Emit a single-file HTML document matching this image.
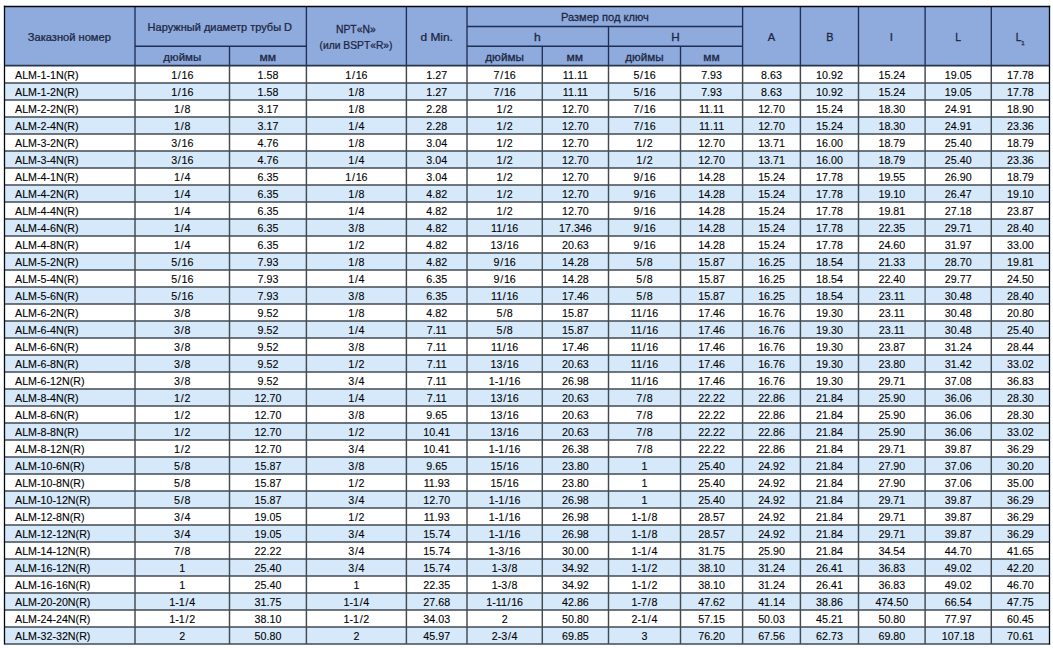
<!DOCTYPE html>
<html><head><meta charset="utf-8"><title>ALM table</title>
<style>
html,body{margin:0;padding:0;background:#fff;}
body{width:1053px;height:648px;overflow:hidden;}
svg{display:block;font-family:"Liberation Sans",sans-serif;}
.h{font-size:10.9px;fill:#1b2540;stroke:#1b2540;stroke-width:0.25px;}
.b{font-size:10.0px;fill:#000;text-anchor:middle;stroke:#000;stroke-width:0.1px;}
.l{font-size:10.0px;fill:#000;text-anchor:start;stroke:#000;stroke-width:0.1px;}
line{stroke:#424a52;stroke-width:1.45;}
.hl{stroke:#1f2e55;stroke-width:1.35;}
.ol{stroke:#05080f;stroke-width:1.3;}
.hb{stroke:#27344f;stroke-width:1.7;}
</style></head><body>
<svg width="1053" height="648" viewBox="0 0 1053 648">
<rect x="0" y="0" width="1053" height="648" fill="#fff"/>
<rect x="4.5" y="6.5" width="1045.0" height="59.099999999999994" fill="#8faadc"/>
<rect x="4.5" y="82.90" width="1045.0" height="17.00" fill="#d6e9fa"/>
<rect x="4.5" y="116.90" width="1045.0" height="17.00" fill="#d6e9fa"/>
<rect x="4.5" y="150.90" width="1045.0" height="17.00" fill="#d6e9fa"/>
<rect x="4.5" y="184.90" width="1045.0" height="17.00" fill="#d6e9fa"/>
<rect x="4.5" y="218.90" width="1045.0" height="17.00" fill="#d6e9fa"/>
<rect x="4.5" y="252.90" width="1045.0" height="17.00" fill="#d6e9fa"/>
<rect x="4.5" y="286.90" width="1045.0" height="17.00" fill="#d6e9fa"/>
<rect x="4.5" y="320.90" width="1045.0" height="17.00" fill="#d6e9fa"/>
<rect x="4.5" y="354.90" width="1045.0" height="17.00" fill="#d6e9fa"/>
<rect x="4.5" y="388.90" width="1045.0" height="17.00" fill="#d6e9fa"/>
<rect x="4.5" y="422.90" width="1045.0" height="17.00" fill="#d6e9fa"/>
<rect x="4.5" y="456.90" width="1045.0" height="17.00" fill="#d6e9fa"/>
<rect x="4.5" y="490.90" width="1045.0" height="17.00" fill="#d6e9fa"/>
<rect x="4.5" y="524.90" width="1045.0" height="17.00" fill="#d6e9fa"/>
<rect x="4.5" y="558.90" width="1045.0" height="17.00" fill="#d6e9fa"/>
<rect x="4.5" y="592.90" width="1045.0" height="17.00" fill="#d6e9fa"/>
<rect x="4.5" y="626.90" width="1045.0" height="17.00" fill="#d6e9fa"/>
<line x1="4.50" y1="82.90" x2="1049.50" y2="82.90"/>
<line x1="4.50" y1="99.90" x2="1049.50" y2="99.90"/>
<line x1="4.50" y1="116.90" x2="1049.50" y2="116.90"/>
<line x1="4.50" y1="133.90" x2="1049.50" y2="133.90"/>
<line x1="4.50" y1="150.90" x2="1049.50" y2="150.90"/>
<line x1="4.50" y1="167.90" x2="1049.50" y2="167.90"/>
<line x1="4.50" y1="184.90" x2="1049.50" y2="184.90"/>
<line x1="4.50" y1="201.90" x2="1049.50" y2="201.90"/>
<line x1="4.50" y1="218.90" x2="1049.50" y2="218.90"/>
<line x1="4.50" y1="235.90" x2="1049.50" y2="235.90"/>
<line x1="4.50" y1="252.90" x2="1049.50" y2="252.90"/>
<line x1="4.50" y1="269.90" x2="1049.50" y2="269.90"/>
<line x1="4.50" y1="286.90" x2="1049.50" y2="286.90"/>
<line x1="4.50" y1="303.90" x2="1049.50" y2="303.90"/>
<line x1="4.50" y1="320.90" x2="1049.50" y2="320.90"/>
<line x1="4.50" y1="337.90" x2="1049.50" y2="337.90"/>
<line x1="4.50" y1="354.90" x2="1049.50" y2="354.90"/>
<line x1="4.50" y1="371.90" x2="1049.50" y2="371.90"/>
<line x1="4.50" y1="388.90" x2="1049.50" y2="388.90"/>
<line x1="4.50" y1="405.90" x2="1049.50" y2="405.90"/>
<line x1="4.50" y1="422.90" x2="1049.50" y2="422.90"/>
<line x1="4.50" y1="439.90" x2="1049.50" y2="439.90"/>
<line x1="4.50" y1="456.90" x2="1049.50" y2="456.90"/>
<line x1="4.50" y1="473.90" x2="1049.50" y2="473.90"/>
<line x1="4.50" y1="490.90" x2="1049.50" y2="490.90"/>
<line x1="4.50" y1="507.90" x2="1049.50" y2="507.90"/>
<line x1="4.50" y1="524.90" x2="1049.50" y2="524.90"/>
<line x1="4.50" y1="541.90" x2="1049.50" y2="541.90"/>
<line x1="4.50" y1="558.90" x2="1049.50" y2="558.90"/>
<line x1="4.50" y1="575.90" x2="1049.50" y2="575.90"/>
<line x1="4.50" y1="592.90" x2="1049.50" y2="592.90"/>
<line x1="4.50" y1="609.90" x2="1049.50" y2="609.90"/>
<line x1="4.50" y1="626.90" x2="1049.50" y2="626.90"/>
<line x1="4.50" y1="643.90" x2="1050.15" y2="643.90"/>
<line x1="135.00" y1="65.60" x2="135.00" y2="643.90"/>
<line x1="229.50" y1="65.60" x2="229.50" y2="643.90"/>
<line x1="306.40" y1="65.60" x2="306.40" y2="643.90"/>
<line x1="406.40" y1="65.60" x2="406.40" y2="643.90"/>
<line x1="467.00" y1="65.60" x2="467.00" y2="643.90"/>
<line x1="542.30" y1="65.60" x2="542.30" y2="643.90"/>
<line x1="608.50" y1="65.60" x2="608.50" y2="643.90"/>
<line x1="680.50" y1="65.60" x2="680.50" y2="643.90"/>
<line x1="742.60" y1="65.60" x2="742.60" y2="643.90"/>
<line x1="800.40" y1="65.60" x2="800.40" y2="643.90"/>
<line x1="858.50" y1="65.60" x2="858.50" y2="643.90"/>
<line x1="925.10" y1="65.60" x2="925.10" y2="643.90"/>
<line x1="991.30" y1="65.60" x2="991.30" y2="643.90"/>
<line class="hb" x1="4.50" y1="65.70" x2="1049.50" y2="65.70"/>
<line class="hl" x1="467.00" y1="26.50" x2="742.60" y2="26.50"/>
<line class="hl" x1="135.00" y1="46.20" x2="306.40" y2="46.20"/>
<line class="hl" x1="467.00" y1="46.20" x2="742.60" y2="46.20"/>
<line class="hl" x1="135.00" y1="6.50" x2="135.00" y2="65.60"/>
<line class="hl" x1="306.40" y1="6.50" x2="306.40" y2="65.60"/>
<line class="hl" x1="406.40" y1="6.50" x2="406.40" y2="65.60"/>
<line class="hl" x1="467.00" y1="6.50" x2="467.00" y2="65.60"/>
<line class="hl" x1="742.60" y1="6.50" x2="742.60" y2="65.60"/>
<line class="hl" x1="800.40" y1="6.50" x2="800.40" y2="65.60"/>
<line class="hl" x1="858.50" y1="6.50" x2="858.50" y2="65.60"/>
<line class="hl" x1="925.10" y1="6.50" x2="925.10" y2="65.60"/>
<line class="hl" x1="991.30" y1="6.50" x2="991.30" y2="65.60"/>
<line class="hl" x1="229.50" y1="46.20" x2="229.50" y2="65.60"/>
<line class="hl" x1="542.30" y1="46.20" x2="542.30" y2="65.60"/>
<line class="hl" x1="608.50" y1="26.50" x2="608.50" y2="65.60"/>
<line class="hl" x1="680.50" y1="46.20" x2="680.50" y2="65.60"/>
<line class="ol" x1="4.50" y1="5.85" x2="4.50" y2="644.62"/>
<line class="ol" x1="1049.50" y1="5.85" x2="1049.50" y2="644.62"/>
<line class="ol" x1="3.85" y1="6.50" x2="1050.15" y2="6.50"/>
<text class="h" transform="translate(27.77,41.30) scale(1.021,1)">Заказной номер</text>
<text class="h" transform="translate(147.62,31.20) scale(1.011,1)">Наружный диаметр трубы D</text>
<text class="h" transform="translate(163.34,60.90) scale(1.053,1)">дюймы</text>
<text class="h" transform="translate(259.41,60.90) scale(1.113,1)">мм</text>
<text class="h" transform="translate(335.97,32.80) scale(0.952,1)">NPT«N»</text>
<text class="h" transform="translate(319.48,48.70) scale(0.946,1)">(или BSPT«R»)</text>
<text class="h" transform="translate(420.52,41.00) scale(1.092,1)">d Min.</text>
<text class="h" transform="translate(560.91,20.80) scale(1.018,1)">Размер под ключ</text>
<text class="h" transform="translate(534.01,40.70) scale(1.109,1)">h</text>
<text class="h" transform="translate(671.27,40.70) scale(1.072,1)">H</text>
<text class="h" transform="translate(485.24,60.90) scale(1.078,1)">дюймы</text>
<text class="h" transform="translate(566.52,60.90) scale(1.105,1)">мм</text>
<text class="h" transform="translate(625.24,60.90) scale(1.070,1)">дюймы</text>
<text class="h" transform="translate(703.22,60.90) scale(1.105,1)">мм</text>
<text class="h" transform="translate(767.80,40.80) scale(1.021,1)">A</text>
<text class="h" transform="translate(826.13,40.80) scale(0.995,1)">B</text>
<text class="h" transform="translate(890.08,40.80) scale(1.120,1)">l</text>
<text class="h" transform="translate(955.17,40.80) scale(0.950,1)">L</text>
<text class="h" transform="translate(1015.67,40.80) scale(0.950,1)">L</text>
<text class="h" style="font-size:6px" transform="translate(1021.2,44.6) scale(1.0,1)">1</text>
<text class="l" transform="translate(15,79.40) scale(1.07,1)">ALM-1-1N(R)</text>
<text class="b" transform="translate(182.25,79.40) scale(1.07,1)">1<tspan dx="0.65">/</tspan><tspan dx="0.65">16</tspan></text>
<text class="b" transform="translate(267.95,79.40) scale(1.07,1)">1.58</text>
<text class="b" transform="translate(356.40,79.40) scale(1.07,1)">1<tspan dx="0.65">/</tspan><tspan dx="0.65">16</tspan></text>
<text class="b" transform="translate(436.70,79.40) scale(1.07,1)">1.27</text>
<text class="b" transform="translate(504.65,79.40) scale(1.07,1)">7<tspan dx="0.65">/</tspan><tspan dx="0.65">16</tspan></text>
<text class="b" transform="translate(575.40,79.40) scale(1.07,1)">11.11</text>
<text class="b" transform="translate(644.50,79.40) scale(1.07,1)">5<tspan dx="0.65">/</tspan><tspan dx="0.65">16</tspan></text>
<text class="b" transform="translate(711.55,79.40) scale(1.07,1)">7.93</text>
<text class="b" transform="translate(771.50,79.40) scale(1.07,1)">8.63</text>
<text class="b" transform="translate(829.45,79.40) scale(1.07,1)">10.92</text>
<text class="b" transform="translate(891.80,79.40) scale(1.07,1)">15.24</text>
<text class="b" transform="translate(958.20,79.40) scale(1.07,1)">19.05</text>
<text class="b" transform="translate(1020.40,79.40) scale(1.07,1)">17.78</text>
<text class="l" transform="translate(15,96.38) scale(1.07,1)">ALM-1-2N(R)</text>
<text class="b" transform="translate(182.25,96.38) scale(1.07,1)">1<tspan dx="0.65">/</tspan><tspan dx="0.65">16</tspan></text>
<text class="b" transform="translate(267.95,96.38) scale(1.07,1)">1.58</text>
<text class="b" transform="translate(356.40,96.38) scale(1.07,1)">1<tspan dx="0.65">/</tspan><tspan dx="0.65">8</tspan></text>
<text class="b" transform="translate(436.70,96.38) scale(1.07,1)">1.27</text>
<text class="b" transform="translate(504.65,96.38) scale(1.07,1)">7<tspan dx="0.65">/</tspan><tspan dx="0.65">16</tspan></text>
<text class="b" transform="translate(575.40,96.38) scale(1.07,1)">11.11</text>
<text class="b" transform="translate(644.50,96.38) scale(1.07,1)">5<tspan dx="0.65">/</tspan><tspan dx="0.65">16</tspan></text>
<text class="b" transform="translate(711.55,96.38) scale(1.07,1)">7.93</text>
<text class="b" transform="translate(771.50,96.38) scale(1.07,1)">8.63</text>
<text class="b" transform="translate(829.45,96.38) scale(1.07,1)">10.92</text>
<text class="b" transform="translate(891.80,96.38) scale(1.07,1)">15.24</text>
<text class="b" transform="translate(958.20,96.38) scale(1.07,1)">19.05</text>
<text class="b" transform="translate(1020.40,96.38) scale(1.07,1)">17.78</text>
<text class="l" transform="translate(15,113.35) scale(1.07,1)">ALM-2-2N(R)</text>
<text class="b" transform="translate(182.25,113.35) scale(1.07,1)">1<tspan dx="0.65">/</tspan><tspan dx="0.65">8</tspan></text>
<text class="b" transform="translate(267.95,113.35) scale(1.07,1)">3.17</text>
<text class="b" transform="translate(356.40,113.35) scale(1.07,1)">1<tspan dx="0.65">/</tspan><tspan dx="0.65">8</tspan></text>
<text class="b" transform="translate(436.70,113.35) scale(1.07,1)">2.28</text>
<text class="b" transform="translate(504.65,113.35) scale(1.07,1)">1<tspan dx="0.65">/</tspan><tspan dx="0.65">2</tspan></text>
<text class="b" transform="translate(575.40,113.35) scale(1.07,1)">12.70</text>
<text class="b" transform="translate(644.50,113.35) scale(1.07,1)">7<tspan dx="0.65">/</tspan><tspan dx="0.65">16</tspan></text>
<text class="b" transform="translate(711.55,113.35) scale(1.07,1)">11.11</text>
<text class="b" transform="translate(771.50,113.35) scale(1.07,1)">12.70</text>
<text class="b" transform="translate(829.45,113.35) scale(1.07,1)">15.24</text>
<text class="b" transform="translate(891.80,113.35) scale(1.07,1)">18.30</text>
<text class="b" transform="translate(958.20,113.35) scale(1.07,1)">24.91</text>
<text class="b" transform="translate(1020.40,113.35) scale(1.07,1)">18.90</text>
<text class="l" transform="translate(15,130.33) scale(1.07,1)">ALM-2-4N(R)</text>
<text class="b" transform="translate(182.25,130.33) scale(1.07,1)">1<tspan dx="0.65">/</tspan><tspan dx="0.65">8</tspan></text>
<text class="b" transform="translate(267.95,130.33) scale(1.07,1)">3.17</text>
<text class="b" transform="translate(356.40,130.33) scale(1.07,1)">1<tspan dx="0.65">/</tspan><tspan dx="0.65">4</tspan></text>
<text class="b" transform="translate(436.70,130.33) scale(1.07,1)">2.28</text>
<text class="b" transform="translate(504.65,130.33) scale(1.07,1)">1<tspan dx="0.65">/</tspan><tspan dx="0.65">2</tspan></text>
<text class="b" transform="translate(575.40,130.33) scale(1.07,1)">12.70</text>
<text class="b" transform="translate(644.50,130.33) scale(1.07,1)">7<tspan dx="0.65">/</tspan><tspan dx="0.65">16</tspan></text>
<text class="b" transform="translate(711.55,130.33) scale(1.07,1)">11.11</text>
<text class="b" transform="translate(771.50,130.33) scale(1.07,1)">12.70</text>
<text class="b" transform="translate(829.45,130.33) scale(1.07,1)">15.24</text>
<text class="b" transform="translate(891.80,130.33) scale(1.07,1)">18.30</text>
<text class="b" transform="translate(958.20,130.33) scale(1.07,1)">24.91</text>
<text class="b" transform="translate(1020.40,130.33) scale(1.07,1)">23.36</text>
<text class="l" transform="translate(15,147.30) scale(1.07,1)">ALM-3-2N(R)</text>
<text class="b" transform="translate(182.25,147.30) scale(1.07,1)">3<tspan dx="0.65">/</tspan><tspan dx="0.65">16</tspan></text>
<text class="b" transform="translate(267.95,147.30) scale(1.07,1)">4.76</text>
<text class="b" transform="translate(356.40,147.30) scale(1.07,1)">1<tspan dx="0.65">/</tspan><tspan dx="0.65">8</tspan></text>
<text class="b" transform="translate(436.70,147.30) scale(1.07,1)">3.04</text>
<text class="b" transform="translate(504.65,147.30) scale(1.07,1)">1<tspan dx="0.65">/</tspan><tspan dx="0.65">2</tspan></text>
<text class="b" transform="translate(575.40,147.30) scale(1.07,1)">12.70</text>
<text class="b" transform="translate(644.50,147.30) scale(1.07,1)">1<tspan dx="0.65">/</tspan><tspan dx="0.65">2</tspan></text>
<text class="b" transform="translate(711.55,147.30) scale(1.07,1)">12.70</text>
<text class="b" transform="translate(771.50,147.30) scale(1.07,1)">13.71</text>
<text class="b" transform="translate(829.45,147.30) scale(1.07,1)">16.00</text>
<text class="b" transform="translate(891.80,147.30) scale(1.07,1)">18.79</text>
<text class="b" transform="translate(958.20,147.30) scale(1.07,1)">25.40</text>
<text class="b" transform="translate(1020.40,147.30) scale(1.07,1)">18.79</text>
<text class="l" transform="translate(15,164.28) scale(1.07,1)">ALM-3-4N(R)</text>
<text class="b" transform="translate(182.25,164.28) scale(1.07,1)">3<tspan dx="0.65">/</tspan><tspan dx="0.65">16</tspan></text>
<text class="b" transform="translate(267.95,164.28) scale(1.07,1)">4.76</text>
<text class="b" transform="translate(356.40,164.28) scale(1.07,1)">1<tspan dx="0.65">/</tspan><tspan dx="0.65">4</tspan></text>
<text class="b" transform="translate(436.70,164.28) scale(1.07,1)">3.04</text>
<text class="b" transform="translate(504.65,164.28) scale(1.07,1)">1<tspan dx="0.65">/</tspan><tspan dx="0.65">2</tspan></text>
<text class="b" transform="translate(575.40,164.28) scale(1.07,1)">12.70</text>
<text class="b" transform="translate(644.50,164.28) scale(1.07,1)">1<tspan dx="0.65">/</tspan><tspan dx="0.65">2</tspan></text>
<text class="b" transform="translate(711.55,164.28) scale(1.07,1)">12.70</text>
<text class="b" transform="translate(771.50,164.28) scale(1.07,1)">13.71</text>
<text class="b" transform="translate(829.45,164.28) scale(1.07,1)">16.00</text>
<text class="b" transform="translate(891.80,164.28) scale(1.07,1)">18.79</text>
<text class="b" transform="translate(958.20,164.28) scale(1.07,1)">25.40</text>
<text class="b" transform="translate(1020.40,164.28) scale(1.07,1)">23.36</text>
<text class="l" transform="translate(15,181.25) scale(1.07,1)">ALM-4-1N(R)</text>
<text class="b" transform="translate(182.25,181.25) scale(1.07,1)">1<tspan dx="0.65">/</tspan><tspan dx="0.65">4</tspan></text>
<text class="b" transform="translate(267.95,181.25) scale(1.07,1)">6.35</text>
<text class="b" transform="translate(356.40,181.25) scale(1.07,1)">1<tspan dx="0.65">/</tspan><tspan dx="0.65">16</tspan></text>
<text class="b" transform="translate(436.70,181.25) scale(1.07,1)">3.04</text>
<text class="b" transform="translate(504.65,181.25) scale(1.07,1)">1<tspan dx="0.65">/</tspan><tspan dx="0.65">2</tspan></text>
<text class="b" transform="translate(575.40,181.25) scale(1.07,1)">12.70</text>
<text class="b" transform="translate(644.50,181.25) scale(1.07,1)">9<tspan dx="0.65">/</tspan><tspan dx="0.65">16</tspan></text>
<text class="b" transform="translate(711.55,181.25) scale(1.07,1)">14.28</text>
<text class="b" transform="translate(771.50,181.25) scale(1.07,1)">15.24</text>
<text class="b" transform="translate(829.45,181.25) scale(1.07,1)">17.78</text>
<text class="b" transform="translate(891.80,181.25) scale(1.07,1)">19.55</text>
<text class="b" transform="translate(958.20,181.25) scale(1.07,1)">26.90</text>
<text class="b" transform="translate(1020.40,181.25) scale(1.07,1)">18.79</text>
<text class="l" transform="translate(15,198.23) scale(1.07,1)">ALM-4-2N(R)</text>
<text class="b" transform="translate(182.25,198.23) scale(1.07,1)">1<tspan dx="0.65">/</tspan><tspan dx="0.65">4</tspan></text>
<text class="b" transform="translate(267.95,198.23) scale(1.07,1)">6.35</text>
<text class="b" transform="translate(356.40,198.23) scale(1.07,1)">1<tspan dx="0.65">/</tspan><tspan dx="0.65">8</tspan></text>
<text class="b" transform="translate(436.70,198.23) scale(1.07,1)">4.82</text>
<text class="b" transform="translate(504.65,198.23) scale(1.07,1)">1<tspan dx="0.65">/</tspan><tspan dx="0.65">2</tspan></text>
<text class="b" transform="translate(575.40,198.23) scale(1.07,1)">12.70</text>
<text class="b" transform="translate(644.50,198.23) scale(1.07,1)">9<tspan dx="0.65">/</tspan><tspan dx="0.65">16</tspan></text>
<text class="b" transform="translate(711.55,198.23) scale(1.07,1)">14.28</text>
<text class="b" transform="translate(771.50,198.23) scale(1.07,1)">15.24</text>
<text class="b" transform="translate(829.45,198.23) scale(1.07,1)">17.78</text>
<text class="b" transform="translate(891.80,198.23) scale(1.07,1)">19.10</text>
<text class="b" transform="translate(958.20,198.23) scale(1.07,1)">26.47</text>
<text class="b" transform="translate(1020.40,198.23) scale(1.07,1)">19.10</text>
<text class="l" transform="translate(15,215.20) scale(1.07,1)">ALM-4-4N(R)</text>
<text class="b" transform="translate(182.25,215.20) scale(1.07,1)">1<tspan dx="0.65">/</tspan><tspan dx="0.65">4</tspan></text>
<text class="b" transform="translate(267.95,215.20) scale(1.07,1)">6.35</text>
<text class="b" transform="translate(356.40,215.20) scale(1.07,1)">1<tspan dx="0.65">/</tspan><tspan dx="0.65">4</tspan></text>
<text class="b" transform="translate(436.70,215.20) scale(1.07,1)">4.82</text>
<text class="b" transform="translate(504.65,215.20) scale(1.07,1)">1<tspan dx="0.65">/</tspan><tspan dx="0.65">2</tspan></text>
<text class="b" transform="translate(575.40,215.20) scale(1.07,1)">12.70</text>
<text class="b" transform="translate(644.50,215.20) scale(1.07,1)">9<tspan dx="0.65">/</tspan><tspan dx="0.65">16</tspan></text>
<text class="b" transform="translate(711.55,215.20) scale(1.07,1)">14.28</text>
<text class="b" transform="translate(771.50,215.20) scale(1.07,1)">15.24</text>
<text class="b" transform="translate(829.45,215.20) scale(1.07,1)">17.78</text>
<text class="b" transform="translate(891.80,215.20) scale(1.07,1)">19.81</text>
<text class="b" transform="translate(958.20,215.20) scale(1.07,1)">27.18</text>
<text class="b" transform="translate(1020.40,215.20) scale(1.07,1)">23.87</text>
<text class="l" transform="translate(15,232.18) scale(1.07,1)">ALM-4-6N(R)</text>
<text class="b" transform="translate(182.25,232.18) scale(1.07,1)">1<tspan dx="0.65">/</tspan><tspan dx="0.65">4</tspan></text>
<text class="b" transform="translate(267.95,232.18) scale(1.07,1)">6.35</text>
<text class="b" transform="translate(356.40,232.18) scale(1.07,1)">3<tspan dx="0.65">/</tspan><tspan dx="0.65">8</tspan></text>
<text class="b" transform="translate(436.70,232.18) scale(1.07,1)">4.82</text>
<text class="b" transform="translate(504.65,232.18) scale(1.07,1)">11<tspan dx="0.65">/</tspan><tspan dx="0.65">16</tspan></text>
<text class="b" transform="translate(575.40,232.18) scale(1.07,1)">17.346</text>
<text class="b" transform="translate(644.50,232.18) scale(1.07,1)">9<tspan dx="0.65">/</tspan><tspan dx="0.65">16</tspan></text>
<text class="b" transform="translate(711.55,232.18) scale(1.07,1)">14.28</text>
<text class="b" transform="translate(771.50,232.18) scale(1.07,1)">15.24</text>
<text class="b" transform="translate(829.45,232.18) scale(1.07,1)">17.78</text>
<text class="b" transform="translate(891.80,232.18) scale(1.07,1)">22.35</text>
<text class="b" transform="translate(958.20,232.18) scale(1.07,1)">29.71</text>
<text class="b" transform="translate(1020.40,232.18) scale(1.07,1)">28.40</text>
<text class="l" transform="translate(15,249.15) scale(1.07,1)">ALM-4-8N(R)</text>
<text class="b" transform="translate(182.25,249.15) scale(1.07,1)">1<tspan dx="0.65">/</tspan><tspan dx="0.65">4</tspan></text>
<text class="b" transform="translate(267.95,249.15) scale(1.07,1)">6.35</text>
<text class="b" transform="translate(356.40,249.15) scale(1.07,1)">1<tspan dx="0.65">/</tspan><tspan dx="0.65">2</tspan></text>
<text class="b" transform="translate(436.70,249.15) scale(1.07,1)">4.82</text>
<text class="b" transform="translate(504.65,249.15) scale(1.07,1)">13<tspan dx="0.65">/</tspan><tspan dx="0.65">16</tspan></text>
<text class="b" transform="translate(575.40,249.15) scale(1.07,1)">20.63</text>
<text class="b" transform="translate(644.50,249.15) scale(1.07,1)">9<tspan dx="0.65">/</tspan><tspan dx="0.65">16</tspan></text>
<text class="b" transform="translate(711.55,249.15) scale(1.07,1)">14.28</text>
<text class="b" transform="translate(771.50,249.15) scale(1.07,1)">15.24</text>
<text class="b" transform="translate(829.45,249.15) scale(1.07,1)">17.78</text>
<text class="b" transform="translate(891.80,249.15) scale(1.07,1)">24.60</text>
<text class="b" transform="translate(958.20,249.15) scale(1.07,1)">31.97</text>
<text class="b" transform="translate(1020.40,249.15) scale(1.07,1)">33.00</text>
<text class="l" transform="translate(15,266.12) scale(1.07,1)">ALM-5-2N(R)</text>
<text class="b" transform="translate(182.25,266.12) scale(1.07,1)">5<tspan dx="0.65">/</tspan><tspan dx="0.65">16</tspan></text>
<text class="b" transform="translate(267.95,266.12) scale(1.07,1)">7.93</text>
<text class="b" transform="translate(356.40,266.12) scale(1.07,1)">1<tspan dx="0.65">/</tspan><tspan dx="0.65">8</tspan></text>
<text class="b" transform="translate(436.70,266.12) scale(1.07,1)">4.82</text>
<text class="b" transform="translate(504.65,266.12) scale(1.07,1)">9<tspan dx="0.65">/</tspan><tspan dx="0.65">16</tspan></text>
<text class="b" transform="translate(575.40,266.12) scale(1.07,1)">14.28</text>
<text class="b" transform="translate(644.50,266.12) scale(1.07,1)">5<tspan dx="0.65">/</tspan><tspan dx="0.65">8</tspan></text>
<text class="b" transform="translate(711.55,266.12) scale(1.07,1)">15.87</text>
<text class="b" transform="translate(771.50,266.12) scale(1.07,1)">16.25</text>
<text class="b" transform="translate(829.45,266.12) scale(1.07,1)">18.54</text>
<text class="b" transform="translate(891.80,266.12) scale(1.07,1)">21.33</text>
<text class="b" transform="translate(958.20,266.12) scale(1.07,1)">28.70</text>
<text class="b" transform="translate(1020.40,266.12) scale(1.07,1)">19.81</text>
<text class="l" transform="translate(15,283.10) scale(1.07,1)">ALM-5-4N(R)</text>
<text class="b" transform="translate(182.25,283.10) scale(1.07,1)">5<tspan dx="0.65">/</tspan><tspan dx="0.65">16</tspan></text>
<text class="b" transform="translate(267.95,283.10) scale(1.07,1)">7.93</text>
<text class="b" transform="translate(356.40,283.10) scale(1.07,1)">1<tspan dx="0.65">/</tspan><tspan dx="0.65">4</tspan></text>
<text class="b" transform="translate(436.70,283.10) scale(1.07,1)">6.35</text>
<text class="b" transform="translate(504.65,283.10) scale(1.07,1)">9<tspan dx="0.65">/</tspan><tspan dx="0.65">16</tspan></text>
<text class="b" transform="translate(575.40,283.10) scale(1.07,1)">14.28</text>
<text class="b" transform="translate(644.50,283.10) scale(1.07,1)">5<tspan dx="0.65">/</tspan><tspan dx="0.65">8</tspan></text>
<text class="b" transform="translate(711.55,283.10) scale(1.07,1)">15.87</text>
<text class="b" transform="translate(771.50,283.10) scale(1.07,1)">16.25</text>
<text class="b" transform="translate(829.45,283.10) scale(1.07,1)">18.54</text>
<text class="b" transform="translate(891.80,283.10) scale(1.07,1)">22.40</text>
<text class="b" transform="translate(958.20,283.10) scale(1.07,1)">29.77</text>
<text class="b" transform="translate(1020.40,283.10) scale(1.07,1)">24.50</text>
<text class="l" transform="translate(15,300.08) scale(1.07,1)">ALM-5-6N(R)</text>
<text class="b" transform="translate(182.25,300.08) scale(1.07,1)">5<tspan dx="0.65">/</tspan><tspan dx="0.65">16</tspan></text>
<text class="b" transform="translate(267.95,300.08) scale(1.07,1)">7.93</text>
<text class="b" transform="translate(356.40,300.08) scale(1.07,1)">3<tspan dx="0.65">/</tspan><tspan dx="0.65">8</tspan></text>
<text class="b" transform="translate(436.70,300.08) scale(1.07,1)">6.35</text>
<text class="b" transform="translate(504.65,300.08) scale(1.07,1)">11<tspan dx="0.65">/</tspan><tspan dx="0.65">16</tspan></text>
<text class="b" transform="translate(575.40,300.08) scale(1.07,1)">17.46</text>
<text class="b" transform="translate(644.50,300.08) scale(1.07,1)">5<tspan dx="0.65">/</tspan><tspan dx="0.65">8</tspan></text>
<text class="b" transform="translate(711.55,300.08) scale(1.07,1)">15.87</text>
<text class="b" transform="translate(771.50,300.08) scale(1.07,1)">16.25</text>
<text class="b" transform="translate(829.45,300.08) scale(1.07,1)">18.54</text>
<text class="b" transform="translate(891.80,300.08) scale(1.07,1)">23.11</text>
<text class="b" transform="translate(958.20,300.08) scale(1.07,1)">30.48</text>
<text class="b" transform="translate(1020.40,300.08) scale(1.07,1)">28.40</text>
<text class="l" transform="translate(15,317.05) scale(1.07,1)">ALM-6-2N(R)</text>
<text class="b" transform="translate(182.25,317.05) scale(1.07,1)">3<tspan dx="0.65">/</tspan><tspan dx="0.65">8</tspan></text>
<text class="b" transform="translate(267.95,317.05) scale(1.07,1)">9.52</text>
<text class="b" transform="translate(356.40,317.05) scale(1.07,1)">1<tspan dx="0.65">/</tspan><tspan dx="0.65">8</tspan></text>
<text class="b" transform="translate(436.70,317.05) scale(1.07,1)">4.82</text>
<text class="b" transform="translate(504.65,317.05) scale(1.07,1)">5<tspan dx="0.65">/</tspan><tspan dx="0.65">8</tspan></text>
<text class="b" transform="translate(575.40,317.05) scale(1.07,1)">15.87</text>
<text class="b" transform="translate(644.50,317.05) scale(1.07,1)">11<tspan dx="0.65">/</tspan><tspan dx="0.65">16</tspan></text>
<text class="b" transform="translate(711.55,317.05) scale(1.07,1)">17.46</text>
<text class="b" transform="translate(771.50,317.05) scale(1.07,1)">16.76</text>
<text class="b" transform="translate(829.45,317.05) scale(1.07,1)">19.30</text>
<text class="b" transform="translate(891.80,317.05) scale(1.07,1)">23.11</text>
<text class="b" transform="translate(958.20,317.05) scale(1.07,1)">30.48</text>
<text class="b" transform="translate(1020.40,317.05) scale(1.07,1)">20.80</text>
<text class="l" transform="translate(15,334.03) scale(1.07,1)">ALM-6-4N(R)</text>
<text class="b" transform="translate(182.25,334.03) scale(1.07,1)">3<tspan dx="0.65">/</tspan><tspan dx="0.65">8</tspan></text>
<text class="b" transform="translate(267.95,334.03) scale(1.07,1)">9.52</text>
<text class="b" transform="translate(356.40,334.03) scale(1.07,1)">1<tspan dx="0.65">/</tspan><tspan dx="0.65">4</tspan></text>
<text class="b" transform="translate(436.70,334.03) scale(1.07,1)">7.11</text>
<text class="b" transform="translate(504.65,334.03) scale(1.07,1)">5<tspan dx="0.65">/</tspan><tspan dx="0.65">8</tspan></text>
<text class="b" transform="translate(575.40,334.03) scale(1.07,1)">15.87</text>
<text class="b" transform="translate(644.50,334.03) scale(1.07,1)">11<tspan dx="0.65">/</tspan><tspan dx="0.65">16</tspan></text>
<text class="b" transform="translate(711.55,334.03) scale(1.07,1)">17.46</text>
<text class="b" transform="translate(771.50,334.03) scale(1.07,1)">16.76</text>
<text class="b" transform="translate(829.45,334.03) scale(1.07,1)">19.30</text>
<text class="b" transform="translate(891.80,334.03) scale(1.07,1)">23.11</text>
<text class="b" transform="translate(958.20,334.03) scale(1.07,1)">30.48</text>
<text class="b" transform="translate(1020.40,334.03) scale(1.07,1)">25.40</text>
<text class="l" transform="translate(15,351.00) scale(1.07,1)">ALM-6-6N(R)</text>
<text class="b" transform="translate(182.25,351.00) scale(1.07,1)">3<tspan dx="0.65">/</tspan><tspan dx="0.65">8</tspan></text>
<text class="b" transform="translate(267.95,351.00) scale(1.07,1)">9.52</text>
<text class="b" transform="translate(356.40,351.00) scale(1.07,1)">3<tspan dx="0.65">/</tspan><tspan dx="0.65">8</tspan></text>
<text class="b" transform="translate(436.70,351.00) scale(1.07,1)">7.11</text>
<text class="b" transform="translate(504.65,351.00) scale(1.07,1)">11<tspan dx="0.65">/</tspan><tspan dx="0.65">16</tspan></text>
<text class="b" transform="translate(575.40,351.00) scale(1.07,1)">17.46</text>
<text class="b" transform="translate(644.50,351.00) scale(1.07,1)">11<tspan dx="0.65">/</tspan><tspan dx="0.65">16</tspan></text>
<text class="b" transform="translate(711.55,351.00) scale(1.07,1)">17.46</text>
<text class="b" transform="translate(771.50,351.00) scale(1.07,1)">16.76</text>
<text class="b" transform="translate(829.45,351.00) scale(1.07,1)">19.30</text>
<text class="b" transform="translate(891.80,351.00) scale(1.07,1)">23.87</text>
<text class="b" transform="translate(958.20,351.00) scale(1.07,1)">31.24</text>
<text class="b" transform="translate(1020.40,351.00) scale(1.07,1)">28.44</text>
<text class="l" transform="translate(15,367.98) scale(1.07,1)">ALM-6-8N(R)</text>
<text class="b" transform="translate(182.25,367.98) scale(1.07,1)">3<tspan dx="0.65">/</tspan><tspan dx="0.65">8</tspan></text>
<text class="b" transform="translate(267.95,367.98) scale(1.07,1)">9.52</text>
<text class="b" transform="translate(356.40,367.98) scale(1.07,1)">1<tspan dx="0.65">/</tspan><tspan dx="0.65">2</tspan></text>
<text class="b" transform="translate(436.70,367.98) scale(1.07,1)">7.11</text>
<text class="b" transform="translate(504.65,367.98) scale(1.07,1)">13<tspan dx="0.65">/</tspan><tspan dx="0.65">16</tspan></text>
<text class="b" transform="translate(575.40,367.98) scale(1.07,1)">20.63</text>
<text class="b" transform="translate(644.50,367.98) scale(1.07,1)">11<tspan dx="0.65">/</tspan><tspan dx="0.65">16</tspan></text>
<text class="b" transform="translate(711.55,367.98) scale(1.07,1)">17.46</text>
<text class="b" transform="translate(771.50,367.98) scale(1.07,1)">16.76</text>
<text class="b" transform="translate(829.45,367.98) scale(1.07,1)">19.30</text>
<text class="b" transform="translate(891.80,367.98) scale(1.07,1)">23.80</text>
<text class="b" transform="translate(958.20,367.98) scale(1.07,1)">31.42</text>
<text class="b" transform="translate(1020.40,367.98) scale(1.07,1)">33.02</text>
<text class="l" transform="translate(15,384.95) scale(1.07,1)">ALM-6-12N(R)</text>
<text class="b" transform="translate(182.25,384.95) scale(1.07,1)">3<tspan dx="0.65">/</tspan><tspan dx="0.65">8</tspan></text>
<text class="b" transform="translate(267.95,384.95) scale(1.07,1)">9.52</text>
<text class="b" transform="translate(356.40,384.95) scale(1.07,1)">3<tspan dx="0.65">/</tspan><tspan dx="0.65">4</tspan></text>
<text class="b" transform="translate(436.70,384.95) scale(1.07,1)">7.11</text>
<text class="b" transform="translate(504.65,384.95) scale(1.07,1)">1-1<tspan dx="0.65">/</tspan><tspan dx="0.65">16</tspan></text>
<text class="b" transform="translate(575.40,384.95) scale(1.07,1)">26.98</text>
<text class="b" transform="translate(644.50,384.95) scale(1.07,1)">11<tspan dx="0.65">/</tspan><tspan dx="0.65">16</tspan></text>
<text class="b" transform="translate(711.55,384.95) scale(1.07,1)">17.46</text>
<text class="b" transform="translate(771.50,384.95) scale(1.07,1)">16.76</text>
<text class="b" transform="translate(829.45,384.95) scale(1.07,1)">19.30</text>
<text class="b" transform="translate(891.80,384.95) scale(1.07,1)">29.71</text>
<text class="b" transform="translate(958.20,384.95) scale(1.07,1)">37.08</text>
<text class="b" transform="translate(1020.40,384.95) scale(1.07,1)">36.83</text>
<text class="l" transform="translate(15,401.93) scale(1.07,1)">ALM-8-4N(R)</text>
<text class="b" transform="translate(182.25,401.93) scale(1.07,1)">1<tspan dx="0.65">/</tspan><tspan dx="0.65">2</tspan></text>
<text class="b" transform="translate(267.95,401.93) scale(1.07,1)">12.70</text>
<text class="b" transform="translate(356.40,401.93) scale(1.07,1)">1<tspan dx="0.65">/</tspan><tspan dx="0.65">4</tspan></text>
<text class="b" transform="translate(436.70,401.93) scale(1.07,1)">7.11</text>
<text class="b" transform="translate(504.65,401.93) scale(1.07,1)">13<tspan dx="0.65">/</tspan><tspan dx="0.65">16</tspan></text>
<text class="b" transform="translate(575.40,401.93) scale(1.07,1)">20.63</text>
<text class="b" transform="translate(644.50,401.93) scale(1.07,1)">7<tspan dx="0.65">/</tspan><tspan dx="0.65">8</tspan></text>
<text class="b" transform="translate(711.55,401.93) scale(1.07,1)">22.22</text>
<text class="b" transform="translate(771.50,401.93) scale(1.07,1)">22.86</text>
<text class="b" transform="translate(829.45,401.93) scale(1.07,1)">21.84</text>
<text class="b" transform="translate(891.80,401.93) scale(1.07,1)">25.90</text>
<text class="b" transform="translate(958.20,401.93) scale(1.07,1)">36.06</text>
<text class="b" transform="translate(1020.40,401.93) scale(1.07,1)">28.30</text>
<text class="l" transform="translate(15,418.90) scale(1.07,1)">ALM-8-6N(R)</text>
<text class="b" transform="translate(182.25,418.90) scale(1.07,1)">1<tspan dx="0.65">/</tspan><tspan dx="0.65">2</tspan></text>
<text class="b" transform="translate(267.95,418.90) scale(1.07,1)">12.70</text>
<text class="b" transform="translate(356.40,418.90) scale(1.07,1)">3<tspan dx="0.65">/</tspan><tspan dx="0.65">8</tspan></text>
<text class="b" transform="translate(436.70,418.90) scale(1.07,1)">9.65</text>
<text class="b" transform="translate(504.65,418.90) scale(1.07,1)">13<tspan dx="0.65">/</tspan><tspan dx="0.65">16</tspan></text>
<text class="b" transform="translate(575.40,418.90) scale(1.07,1)">20.63</text>
<text class="b" transform="translate(644.50,418.90) scale(1.07,1)">7<tspan dx="0.65">/</tspan><tspan dx="0.65">8</tspan></text>
<text class="b" transform="translate(711.55,418.90) scale(1.07,1)">22.22</text>
<text class="b" transform="translate(771.50,418.90) scale(1.07,1)">22.86</text>
<text class="b" transform="translate(829.45,418.90) scale(1.07,1)">21.84</text>
<text class="b" transform="translate(891.80,418.90) scale(1.07,1)">25.90</text>
<text class="b" transform="translate(958.20,418.90) scale(1.07,1)">36.06</text>
<text class="b" transform="translate(1020.40,418.90) scale(1.07,1)">28.30</text>
<text class="l" transform="translate(15,435.88) scale(1.07,1)">ALM-8-8N(R)</text>
<text class="b" transform="translate(182.25,435.88) scale(1.07,1)">1<tspan dx="0.65">/</tspan><tspan dx="0.65">2</tspan></text>
<text class="b" transform="translate(267.95,435.88) scale(1.07,1)">12.70</text>
<text class="b" transform="translate(356.40,435.88) scale(1.07,1)">1<tspan dx="0.65">/</tspan><tspan dx="0.65">2</tspan></text>
<text class="b" transform="translate(436.70,435.88) scale(1.07,1)">10.41</text>
<text class="b" transform="translate(504.65,435.88) scale(1.07,1)">13<tspan dx="0.65">/</tspan><tspan dx="0.65">16</tspan></text>
<text class="b" transform="translate(575.40,435.88) scale(1.07,1)">20.63</text>
<text class="b" transform="translate(644.50,435.88) scale(1.07,1)">7<tspan dx="0.65">/</tspan><tspan dx="0.65">8</tspan></text>
<text class="b" transform="translate(711.55,435.88) scale(1.07,1)">22.22</text>
<text class="b" transform="translate(771.50,435.88) scale(1.07,1)">22.86</text>
<text class="b" transform="translate(829.45,435.88) scale(1.07,1)">21.84</text>
<text class="b" transform="translate(891.80,435.88) scale(1.07,1)">25.90</text>
<text class="b" transform="translate(958.20,435.88) scale(1.07,1)">36.06</text>
<text class="b" transform="translate(1020.40,435.88) scale(1.07,1)">33.02</text>
<text class="l" transform="translate(15,452.85) scale(1.07,1)">ALM-8-12N(R)</text>
<text class="b" transform="translate(182.25,452.85) scale(1.07,1)">1<tspan dx="0.65">/</tspan><tspan dx="0.65">2</tspan></text>
<text class="b" transform="translate(267.95,452.85) scale(1.07,1)">12.70</text>
<text class="b" transform="translate(356.40,452.85) scale(1.07,1)">3<tspan dx="0.65">/</tspan><tspan dx="0.65">4</tspan></text>
<text class="b" transform="translate(436.70,452.85) scale(1.07,1)">10.41</text>
<text class="b" transform="translate(504.65,452.85) scale(1.07,1)">1-1<tspan dx="0.65">/</tspan><tspan dx="0.65">16</tspan></text>
<text class="b" transform="translate(575.40,452.85) scale(1.07,1)">26.38</text>
<text class="b" transform="translate(644.50,452.85) scale(1.07,1)">7<tspan dx="0.65">/</tspan><tspan dx="0.65">8</tspan></text>
<text class="b" transform="translate(711.55,452.85) scale(1.07,1)">22.22</text>
<text class="b" transform="translate(771.50,452.85) scale(1.07,1)">22.86</text>
<text class="b" transform="translate(829.45,452.85) scale(1.07,1)">21.84</text>
<text class="b" transform="translate(891.80,452.85) scale(1.07,1)">29.71</text>
<text class="b" transform="translate(958.20,452.85) scale(1.07,1)">39.87</text>
<text class="b" transform="translate(1020.40,452.85) scale(1.07,1)">36.29</text>
<text class="l" transform="translate(15,469.83) scale(1.07,1)">ALM-10-6N(R)</text>
<text class="b" transform="translate(182.25,469.83) scale(1.07,1)">5<tspan dx="0.65">/</tspan><tspan dx="0.65">8</tspan></text>
<text class="b" transform="translate(267.95,469.83) scale(1.07,1)">15.87</text>
<text class="b" transform="translate(356.40,469.83) scale(1.07,1)">3<tspan dx="0.65">/</tspan><tspan dx="0.65">8</tspan></text>
<text class="b" transform="translate(436.70,469.83) scale(1.07,1)">9.65</text>
<text class="b" transform="translate(504.65,469.83) scale(1.07,1)">15<tspan dx="0.65">/</tspan><tspan dx="0.65">16</tspan></text>
<text class="b" transform="translate(575.40,469.83) scale(1.07,1)">23.80</text>
<text class="b" transform="translate(644.50,469.83) scale(1.07,1)">1</text>
<text class="b" transform="translate(711.55,469.83) scale(1.07,1)">25.40</text>
<text class="b" transform="translate(771.50,469.83) scale(1.07,1)">24.92</text>
<text class="b" transform="translate(829.45,469.83) scale(1.07,1)">21.84</text>
<text class="b" transform="translate(891.80,469.83) scale(1.07,1)">27.90</text>
<text class="b" transform="translate(958.20,469.83) scale(1.07,1)">37.06</text>
<text class="b" transform="translate(1020.40,469.83) scale(1.07,1)">30.20</text>
<text class="l" transform="translate(15,486.80) scale(1.07,1)">ALM-10-8N(R)</text>
<text class="b" transform="translate(182.25,486.80) scale(1.07,1)">5<tspan dx="0.65">/</tspan><tspan dx="0.65">8</tspan></text>
<text class="b" transform="translate(267.95,486.80) scale(1.07,1)">15.87</text>
<text class="b" transform="translate(356.40,486.80) scale(1.07,1)">1<tspan dx="0.65">/</tspan><tspan dx="0.65">2</tspan></text>
<text class="b" transform="translate(436.70,486.80) scale(1.07,1)">11.93</text>
<text class="b" transform="translate(504.65,486.80) scale(1.07,1)">15<tspan dx="0.65">/</tspan><tspan dx="0.65">16</tspan></text>
<text class="b" transform="translate(575.40,486.80) scale(1.07,1)">23.80</text>
<text class="b" transform="translate(644.50,486.80) scale(1.07,1)">1</text>
<text class="b" transform="translate(711.55,486.80) scale(1.07,1)">25.40</text>
<text class="b" transform="translate(771.50,486.80) scale(1.07,1)">24.92</text>
<text class="b" transform="translate(829.45,486.80) scale(1.07,1)">21.84</text>
<text class="b" transform="translate(891.80,486.80) scale(1.07,1)">27.90</text>
<text class="b" transform="translate(958.20,486.80) scale(1.07,1)">37.06</text>
<text class="b" transform="translate(1020.40,486.80) scale(1.07,1)">35.00</text>
<text class="l" transform="translate(15,503.78) scale(1.07,1)">ALM-10-12N(R)</text>
<text class="b" transform="translate(182.25,503.78) scale(1.07,1)">5<tspan dx="0.65">/</tspan><tspan dx="0.65">8</tspan></text>
<text class="b" transform="translate(267.95,503.78) scale(1.07,1)">15.87</text>
<text class="b" transform="translate(356.40,503.78) scale(1.07,1)">3<tspan dx="0.65">/</tspan><tspan dx="0.65">4</tspan></text>
<text class="b" transform="translate(436.70,503.78) scale(1.07,1)">12.70</text>
<text class="b" transform="translate(504.65,503.78) scale(1.07,1)">1-1<tspan dx="0.65">/</tspan><tspan dx="0.65">16</tspan></text>
<text class="b" transform="translate(575.40,503.78) scale(1.07,1)">26.98</text>
<text class="b" transform="translate(644.50,503.78) scale(1.07,1)">1</text>
<text class="b" transform="translate(711.55,503.78) scale(1.07,1)">25.40</text>
<text class="b" transform="translate(771.50,503.78) scale(1.07,1)">24.92</text>
<text class="b" transform="translate(829.45,503.78) scale(1.07,1)">21.84</text>
<text class="b" transform="translate(891.80,503.78) scale(1.07,1)">29.71</text>
<text class="b" transform="translate(958.20,503.78) scale(1.07,1)">39.87</text>
<text class="b" transform="translate(1020.40,503.78) scale(1.07,1)">36.29</text>
<text class="l" transform="translate(15,520.75) scale(1.07,1)">ALM-12-8N(R)</text>
<text class="b" transform="translate(182.25,520.75) scale(1.07,1)">3<tspan dx="0.65">/</tspan><tspan dx="0.65">4</tspan></text>
<text class="b" transform="translate(267.95,520.75) scale(1.07,1)">19.05</text>
<text class="b" transform="translate(356.40,520.75) scale(1.07,1)">1<tspan dx="0.65">/</tspan><tspan dx="0.65">2</tspan></text>
<text class="b" transform="translate(436.70,520.75) scale(1.07,1)">11.93</text>
<text class="b" transform="translate(504.65,520.75) scale(1.07,1)">1-1<tspan dx="0.65">/</tspan><tspan dx="0.65">16</tspan></text>
<text class="b" transform="translate(575.40,520.75) scale(1.07,1)">26.98</text>
<text class="b" transform="translate(644.50,520.75) scale(1.07,1)">1-1<tspan dx="0.65">/</tspan><tspan dx="0.65">8</tspan></text>
<text class="b" transform="translate(711.55,520.75) scale(1.07,1)">28.57</text>
<text class="b" transform="translate(771.50,520.75) scale(1.07,1)">24.92</text>
<text class="b" transform="translate(829.45,520.75) scale(1.07,1)">21.84</text>
<text class="b" transform="translate(891.80,520.75) scale(1.07,1)">29.71</text>
<text class="b" transform="translate(958.20,520.75) scale(1.07,1)">39.87</text>
<text class="b" transform="translate(1020.40,520.75) scale(1.07,1)">36.29</text>
<text class="l" transform="translate(15,537.73) scale(1.07,1)">ALM-12-12N(R)</text>
<text class="b" transform="translate(182.25,537.73) scale(1.07,1)">3<tspan dx="0.65">/</tspan><tspan dx="0.65">4</tspan></text>
<text class="b" transform="translate(267.95,537.73) scale(1.07,1)">19.05</text>
<text class="b" transform="translate(356.40,537.73) scale(1.07,1)">3<tspan dx="0.65">/</tspan><tspan dx="0.65">4</tspan></text>
<text class="b" transform="translate(436.70,537.73) scale(1.07,1)">15.74</text>
<text class="b" transform="translate(504.65,537.73) scale(1.07,1)">1-1<tspan dx="0.65">/</tspan><tspan dx="0.65">16</tspan></text>
<text class="b" transform="translate(575.40,537.73) scale(1.07,1)">26.98</text>
<text class="b" transform="translate(644.50,537.73) scale(1.07,1)">1-1<tspan dx="0.65">/</tspan><tspan dx="0.65">8</tspan></text>
<text class="b" transform="translate(711.55,537.73) scale(1.07,1)">28.57</text>
<text class="b" transform="translate(771.50,537.73) scale(1.07,1)">24.92</text>
<text class="b" transform="translate(829.45,537.73) scale(1.07,1)">21.84</text>
<text class="b" transform="translate(891.80,537.73) scale(1.07,1)">29.71</text>
<text class="b" transform="translate(958.20,537.73) scale(1.07,1)">39.87</text>
<text class="b" transform="translate(1020.40,537.73) scale(1.07,1)">36.29</text>
<text class="l" transform="translate(15,554.70) scale(1.07,1)">ALM-14-12N(R)</text>
<text class="b" transform="translate(182.25,554.70) scale(1.07,1)">7<tspan dx="0.65">/</tspan><tspan dx="0.65">8</tspan></text>
<text class="b" transform="translate(267.95,554.70) scale(1.07,1)">22.22</text>
<text class="b" transform="translate(356.40,554.70) scale(1.07,1)">3<tspan dx="0.65">/</tspan><tspan dx="0.65">4</tspan></text>
<text class="b" transform="translate(436.70,554.70) scale(1.07,1)">15.74</text>
<text class="b" transform="translate(504.65,554.70) scale(1.07,1)">1-3<tspan dx="0.65">/</tspan><tspan dx="0.65">16</tspan></text>
<text class="b" transform="translate(575.40,554.70) scale(1.07,1)">30.00</text>
<text class="b" transform="translate(644.50,554.70) scale(1.07,1)">1-1<tspan dx="0.65">/</tspan><tspan dx="0.65">4</tspan></text>
<text class="b" transform="translate(711.55,554.70) scale(1.07,1)">31.75</text>
<text class="b" transform="translate(771.50,554.70) scale(1.07,1)">25.90</text>
<text class="b" transform="translate(829.45,554.70) scale(1.07,1)">21.84</text>
<text class="b" transform="translate(891.80,554.70) scale(1.07,1)">34.54</text>
<text class="b" transform="translate(958.20,554.70) scale(1.07,1)">44.70</text>
<text class="b" transform="translate(1020.40,554.70) scale(1.07,1)">41.65</text>
<text class="l" transform="translate(15,571.68) scale(1.07,1)">ALM-16-12N(R)</text>
<text class="b" transform="translate(182.25,571.68) scale(1.07,1)">1</text>
<text class="b" transform="translate(267.95,571.68) scale(1.07,1)">25.40</text>
<text class="b" transform="translate(356.40,571.68) scale(1.07,1)">3<tspan dx="0.65">/</tspan><tspan dx="0.65">4</tspan></text>
<text class="b" transform="translate(436.70,571.68) scale(1.07,1)">15.74</text>
<text class="b" transform="translate(504.65,571.68) scale(1.07,1)">1-3<tspan dx="0.65">/</tspan><tspan dx="0.65">8</tspan></text>
<text class="b" transform="translate(575.40,571.68) scale(1.07,1)">34.92</text>
<text class="b" transform="translate(644.50,571.68) scale(1.07,1)">1-1<tspan dx="0.65">/</tspan><tspan dx="0.65">2</tspan></text>
<text class="b" transform="translate(711.55,571.68) scale(1.07,1)">38.10</text>
<text class="b" transform="translate(771.50,571.68) scale(1.07,1)">31.24</text>
<text class="b" transform="translate(829.45,571.68) scale(1.07,1)">26.41</text>
<text class="b" transform="translate(891.80,571.68) scale(1.07,1)">36.83</text>
<text class="b" transform="translate(958.20,571.68) scale(1.07,1)">49.02</text>
<text class="b" transform="translate(1020.40,571.68) scale(1.07,1)">42.20</text>
<text class="l" transform="translate(15,588.65) scale(1.07,1)">ALM-16-16N(R)</text>
<text class="b" transform="translate(182.25,588.65) scale(1.07,1)">1</text>
<text class="b" transform="translate(267.95,588.65) scale(1.07,1)">25.40</text>
<text class="b" transform="translate(356.40,588.65) scale(1.07,1)">1</text>
<text class="b" transform="translate(436.70,588.65) scale(1.07,1)">22.35</text>
<text class="b" transform="translate(504.65,588.65) scale(1.07,1)">1-3<tspan dx="0.65">/</tspan><tspan dx="0.65">8</tspan></text>
<text class="b" transform="translate(575.40,588.65) scale(1.07,1)">34.92</text>
<text class="b" transform="translate(644.50,588.65) scale(1.07,1)">1-1<tspan dx="0.65">/</tspan><tspan dx="0.65">2</tspan></text>
<text class="b" transform="translate(711.55,588.65) scale(1.07,1)">38.10</text>
<text class="b" transform="translate(771.50,588.65) scale(1.07,1)">31.24</text>
<text class="b" transform="translate(829.45,588.65) scale(1.07,1)">26.41</text>
<text class="b" transform="translate(891.80,588.65) scale(1.07,1)">36.83</text>
<text class="b" transform="translate(958.20,588.65) scale(1.07,1)">49.02</text>
<text class="b" transform="translate(1020.40,588.65) scale(1.07,1)">46.70</text>
<text class="l" transform="translate(15,605.62) scale(1.07,1)">ALM-20-20N(R)</text>
<text class="b" transform="translate(182.25,605.62) scale(1.07,1)">1-1<tspan dx="0.65">/</tspan><tspan dx="0.65">4</tspan></text>
<text class="b" transform="translate(267.95,605.62) scale(1.07,1)">31.75</text>
<text class="b" transform="translate(356.40,605.62) scale(1.07,1)">1-1<tspan dx="0.65">/</tspan><tspan dx="0.65">4</tspan></text>
<text class="b" transform="translate(436.70,605.62) scale(1.07,1)">27.68</text>
<text class="b" transform="translate(504.65,605.62) scale(1.07,1)">1-11<tspan dx="0.65">/</tspan><tspan dx="0.65">16</tspan></text>
<text class="b" transform="translate(575.40,605.62) scale(1.07,1)">42.86</text>
<text class="b" transform="translate(644.50,605.62) scale(1.07,1)">1-7<tspan dx="0.65">/</tspan><tspan dx="0.65">8</tspan></text>
<text class="b" transform="translate(711.55,605.62) scale(1.07,1)">47.62</text>
<text class="b" transform="translate(771.50,605.62) scale(1.07,1)">41.14</text>
<text class="b" transform="translate(829.45,605.62) scale(1.07,1)">38.86</text>
<text class="b" transform="translate(891.80,605.62) scale(1.07,1)">474.50</text>
<text class="b" transform="translate(958.20,605.62) scale(1.07,1)">66.54</text>
<text class="b" transform="translate(1020.40,605.62) scale(1.07,1)">47.75</text>
<text class="l" transform="translate(15,622.60) scale(1.07,1)">ALM-24-24N(R)</text>
<text class="b" transform="translate(182.25,622.60) scale(1.07,1)">1-1<tspan dx="0.65">/</tspan><tspan dx="0.65">2</tspan></text>
<text class="b" transform="translate(267.95,622.60) scale(1.07,1)">38.10</text>
<text class="b" transform="translate(356.40,622.60) scale(1.07,1)">1-1<tspan dx="0.65">/</tspan><tspan dx="0.65">2</tspan></text>
<text class="b" transform="translate(436.70,622.60) scale(1.07,1)">34.03</text>
<text class="b" transform="translate(504.65,622.60) scale(1.07,1)">2</text>
<text class="b" transform="translate(575.40,622.60) scale(1.07,1)">50.80</text>
<text class="b" transform="translate(644.50,622.60) scale(1.07,1)">2-1<tspan dx="0.65">/</tspan><tspan dx="0.65">4</tspan></text>
<text class="b" transform="translate(711.55,622.60) scale(1.07,1)">57.15</text>
<text class="b" transform="translate(771.50,622.60) scale(1.07,1)">50.03</text>
<text class="b" transform="translate(829.45,622.60) scale(1.07,1)">45.21</text>
<text class="b" transform="translate(891.80,622.60) scale(1.07,1)">50.80</text>
<text class="b" transform="translate(958.20,622.60) scale(1.07,1)">77.97</text>
<text class="b" transform="translate(1020.40,622.60) scale(1.07,1)">60.45</text>
<text class="l" transform="translate(15,639.58) scale(1.07,1)">ALM-32-32N(R)</text>
<text class="b" transform="translate(182.25,639.58) scale(1.07,1)">2</text>
<text class="b" transform="translate(267.95,639.58) scale(1.07,1)">50.80</text>
<text class="b" transform="translate(356.40,639.58) scale(1.07,1)">2</text>
<text class="b" transform="translate(436.70,639.58) scale(1.07,1)">45.97</text>
<text class="b" transform="translate(504.65,639.58) scale(1.07,1)">2-3<tspan dx="0.65">/</tspan><tspan dx="0.65">4</tspan></text>
<text class="b" transform="translate(575.40,639.58) scale(1.07,1)">69.85</text>
<text class="b" transform="translate(644.50,639.58) scale(1.07,1)">3</text>
<text class="b" transform="translate(711.55,639.58) scale(1.07,1)">76.20</text>
<text class="b" transform="translate(771.50,639.58) scale(1.07,1)">67.56</text>
<text class="b" transform="translate(829.45,639.58) scale(1.07,1)">62.73</text>
<text class="b" transform="translate(891.80,639.58) scale(1.07,1)">69.80</text>
<text class="b" transform="translate(958.20,639.58) scale(1.07,1)">107.18</text>
<text class="b" transform="translate(1020.40,639.58) scale(1.07,1)">70.61</text>
</svg>
</body></html>
